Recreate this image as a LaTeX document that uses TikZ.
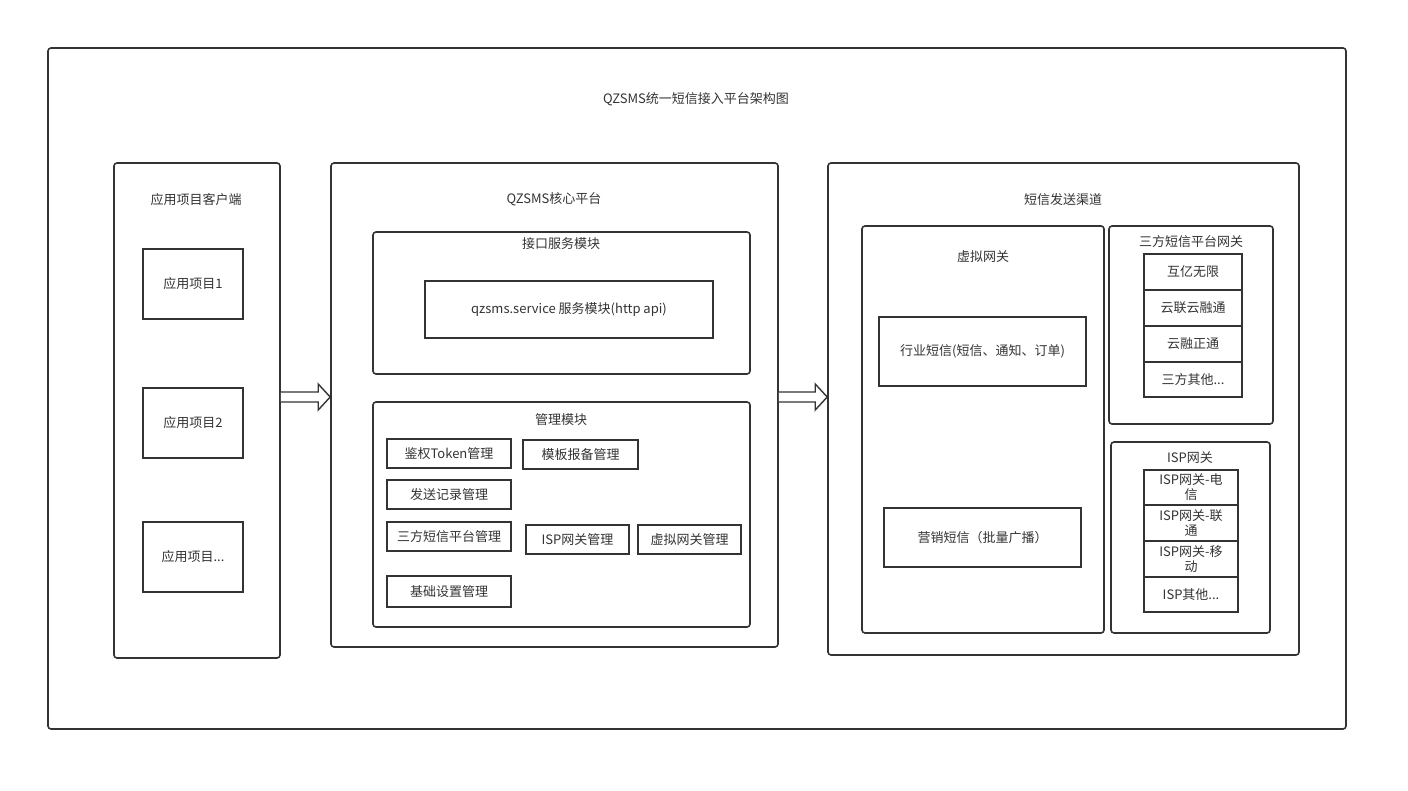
\documentclass[tikz,border=0pt]{standalone}
\usepackage{fontspec}
\setmainfont{Noto Sans CJK SC}
\usetikzlibrary{calc}
\definecolor{ln}{HTML}{333333}
\begin{document}
\begin{tikzpicture}[x=1pt,y=-1pt,
  every node/.style={font=\fontsize{13}{15}\selectfont, text=ln},
  frame/.style={draw=ln, line width=1.6pt, rounded corners=3pt, inner sep=0pt},
  cell/.style={draw=ln, line width=1.6pt, inner sep=0pt, align=center},
  lbl/.style={inner sep=0pt},
  blockarrow/.style={draw=ln, line width=1.4pt, fill=white, line join=miter}]
\useasboundingbox (0,0) rectangle (1408,791);
% outer
\node[frame, minimum width=1298, minimum height=681] (outer) at (697,388.5) {};
\node[lbl] (title) at (696,99) {QZSMS统一短信接入平台架构图};
% client
\node[frame, minimum width=166, minimum height=495] (client) at (197,410.5) {};
\node[lbl] (clientlbl) at (196,200) {应用项目客户端};
\node[cell, minimum width=100, minimum height=70] (app1) at (193,284) {应用项目1};
\node[cell, minimum width=100, minimum height=70] (app2) at (193,423) {应用项目2};
\node[cell, minimum width=100, minimum height=70] (app3) at (193,557) {应用项目...};
% core
\node[frame, minimum width=447, minimum height=484] (core) at (554.5,405) {};
\node[lbl] (corelbl) at (554,199) {QZSMS核心平台};
\node[frame, minimum width=377, minimum height=142] (iface) at (561.5,303) {};
\node[lbl] (ifacelbl) at (561,244) {接口服务模块};
\node[cell, minimum width=288, minimum height=57] (svc) at (569,309.5) {qzsms.service 服务模块(http api)};
\node[frame, minimum width=377, minimum height=225] (mgmt) at (561.5,514.5) {};
\node[lbl] (mgmtlbl) at (561,420) {管理模块};
\node[cell, minimum width=124, minimum height=29] (token) at (449,453.5) {鉴权Token管理};
\node[cell, minimum width=115, minimum height=29] (tmpl) at (580.5,454.5) {模板报备管理};
\node[cell, minimum width=124, minimum height=29] (sendrec) at (449,494.5) {发送记录管理};
\node[cell, minimum width=124, minimum height=29] (third) at (449,536.5) {三方短信平台管理};
\node[cell, minimum width=103, minimum height=29] (ispm) at (577.5,539.5) {ISP网关管理};
\node[cell, minimum width=103, minimum height=29] (vgm) at (689.5,539.5) {虚拟网关管理};
\node[cell, minimum width=124, minimum height=31] (base) at (449,591.5) {基础设置管理};
% channel
\node[frame, minimum width=471, minimum height=492] (chan) at (1063.5,409) {};
\node[lbl] (chanlbl) at (1063,200) {短信发送渠道};
\node[frame, minimum width=242, minimum height=407] (vgw) at (983,429.5) {};
\node[lbl] (vgwlbl) at (983,257) {虚拟网关};
\node[cell, minimum width=207, minimum height=69] (ind) at (982.5,351.5) {行业短信(短信、通知、订单)};
\node[cell, minimum width=197, minimum height=59] (mkt) at (982.5,537.5) {营销短信（批量广播）};
\node[frame, minimum width=164, minimum height=198] (tp) at (1191,325) {};
\node[lbl] (tplbl) at (1191,242) {三方短信平台网关};
\node[cell, minimum width=98, minimum height=36] (tp1) at (1193,272) {互亿无限};
\node[cell, minimum width=98, minimum height=36] (tp2) at (1193,308) {云联云融通};
\node[cell, minimum width=98, minimum height=36] (tp3) at (1193,344) {云融正通};
\node[cell, minimum width=98, minimum height=35] (tp4) at (1193,379.5) {三方其他...};
\node[frame, minimum width=159, minimum height=191] (isp) at (1190.5,537.5) {};
\node[lbl] (isplbl) at (1190,458) {ISP网关};
\node[cell, minimum width=94, minimum height=35] (isp1) at (1191,487.5) {ISP网关-电\\信};
\node[cell, minimum width=94, minimum height=36] (isp2) at (1191,523) {ISP网关-联\\通};
\node[cell, minimum width=94, minimum height=36] (isp3) at (1191,559) {ISP网关-移\\动};
\node[cell, minimum width=94, minimum height=35] (isp4) at (1191,594.5) {ISP其他...};
% arrows
\coordinate (ay) at (0,397);
\coordinate (a1s) at (client.east |- ay);
\coordinate (a1e) at (core.west |- ay);
\coordinate (a2s) at (core.east |- ay);
\coordinate (a2e) at (chan.west |- ay);
\draw[blockarrow] ($(a1s)+(0,-5)$) -- ($(a1e)+(-12,-5)$) -- ($(a1e)+(-12,-13)$) -- (a1e) -- ($(a1e)+(-12,13)$) -- ($(a1e)+(-12,5)$) -- ($(a1s)+(0,5)$);
\draw[blockarrow] ($(a2s)+(0,-5)$) -- ($(a2e)+(-12,-5)$) -- ($(a2e)+(-12,-13)$) -- (a2e) -- ($(a2e)+(-12,13)$) -- ($(a2e)+(-12,5)$) -- ($(a2s)+(0,5)$);
\end{tikzpicture}
\end{document}
